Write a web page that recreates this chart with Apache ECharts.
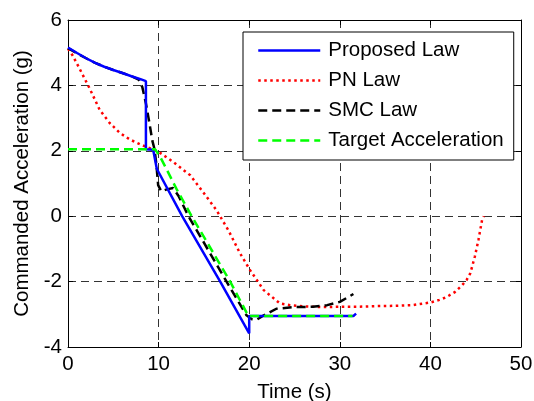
<!DOCTYPE html>
<html>
<head>
<meta charset="utf-8">
<script src="https://cdn.jsdelivr.net/npm/echarts@6/dist/echarts.min.js"></script>
<style>
html,body{margin:0;padding:0;background:#fff;}
#chart{width:534px;height:401px;}
</style>
</head>
<body>
<div id="chart"></div>
<script>
// ---- data ----
var xTicks = [0, 10, 20, 30, 40, 50];
var yTicks = [-4, -2, 0, 2, 4, 6];
var seriesNames = ['Proposed Law', 'PN Law', 'SMC Law', 'Target Acceleration'];

var proposedT = [0, 1, 2, 3, 4, 5, 6, 7, 8, 8.6, 8.6, 9.4, 9.8, 12.6, 16.8, 20, 20, 25, 31.5, 31.8];
var proposedV = [5.16, 4.99, 4.83, 4.69, 4.57, 4.47, 4.38, 4.28, 4.19, 4.13, 2.05, 2.03, 1.45, 0.0, -2.0, -3.58, -3.05, -3.05, -3.05, -2.98];

var pnT = [0, 0.5, 1.3, 2.4, 3.5, 4.6, 5.7, 6.8, 8.1, 10, 11.6, 13.5, 14.9, 16.4, 17.7, 19, 20.1, 21.6, 23.4, 24.5, 26, 28, 30, 32, 34, 36, 38, 40, 41, 41.8, 42.7, 43.5, 44, 44.4, 44.9, 45.3, 45.7, 45.9];
var pnV = [5.12, 4.92, 4.5, 3.9, 3.25, 2.85, 2.55, 2.35, 2.18, 1.97, 1.66, 1.25, 0.74, 0.18, -0.43, -1.14, -1.65, -2.26, -2.67, -2.72, -2.76, -2.78, -2.77, -2.77, -2.75, -2.74, -2.72, -2.64, -2.56, -2.47, -2.32, -2.11, -1.95, -1.75, -1.24, -0.73, -0.12, 0.0];

var smcT = [0, 1, 2, 3, 4, 5, 6, 7, 7.8, 8.2, 8.6, 9.0, 9.3, 9.55, 9.75, 9.95, 10.3, 10.9, 11.6, 12.2, 13.3, 17.5, 19.7, 20.3, 20.8, 21.5, 23, 25, 27, 28.6, 30, 31.5];
var smcV = [5.14, 4.98, 4.83, 4.69, 4.57, 4.47, 4.38, 4.28, 4.18, 3.95, 3.45, 2.83, 2.32, 2.05, 1.6, 0.95, 0.76, 0.82, 0.86, 0.62, 0.0, -2.0, -3.03, -3.15, -3.17, -3.05, -2.83, -2.78, -2.77, -2.72, -2.62, -2.38];

var targetT = [0, 9.6, 10.2, 11, 12, 13.65, 17.9, 19.9, 25, 31.4];
var targetV = [2.05, 2.05, 1.8, 1.37, 0.82, 0.0, -2.0, -3.05, -3.05, -3.05];

function zip(t, v) { return t.map(function (x, i) { return [x, v[i]]; }); }

var FONT = 'Liberation Sans, Arial, sans-serif';
var FS = 20.5;

var chart = echarts.init(document.getElementById('chart'), null, {renderer: 'canvas'});

var axisCommon = {
  axisLine: {show: true, onZero: false, lineStyle: {color: '#000', width: 1}},
  axisTick: {show: true, inside: true, length: 5, lineStyle: {color: '#000', width: 1}}
};

var option = {
  backgroundColor: '#fff',
  animation: false,
  grid: {left: 68, right: 13, top: 20, bottom: 54, show: false, containLabel: false, outerBoundsMode: 'none'},
  legend: {
    orient: 'vertical',
    left: 243,
    top: 32,
    padding: [8, 10, 9, 14],
    itemWidth: 62,
    itemHeight: 20,
    itemGap: 9,
    backgroundColor: '#fff',
    borderColor: '#000',
    borderWidth: 1,
    borderRadius: 0,
    data: seriesNames,
    textStyle: {fontFamily: FONT, fontSize: FS, color: '#000', lineHeight: 20, padding: [0, 0, 0, 3]},
    lineStyle: {width: 2.5},
    itemStyle: {opacity: 0, borderWidth: 0}
  },
  xAxis: [
    Object.assign({
      type: 'value', min: xTicks[0], max: xTicks[xTicks.length - 1], interval: 10,
      position: 'bottom',
      name: 'Time (s)', nameLocation: 'middle', nameGap: 35,
      nameTextStyle: {fontFamily: FONT, fontSize: FS, color: '#000'},
      axisLabel: {show: true, margin: 7, fontFamily: FONT, fontSize: FS, color: '#000'},
      splitLine: {show: true, lineStyle: {color: '#333', width: 1, type: [8, 5]}}
    }, axisCommon),
    Object.assign({
      type: 'value', min: xTicks[0], max: xTicks[xTicks.length - 1], interval: 10,
      position: 'top', axisLabel: {show: false}, splitLine: {show: false}
    }, axisCommon)
  ],
  yAxis: [
    Object.assign({
      type: 'value', min: yTicks[0], max: yTicks[yTicks.length - 1], interval: 2,
      position: 'left',
      name: 'Commanded Acceleration (g)', nameLocation: 'middle', nameGap: 35,
      nameTextStyle: {fontFamily: FONT, fontSize: FS, color: '#000'},
      axisLabel: {show: true, margin: 6, fontFamily: FONT, fontSize: FS, color: '#000'},
      splitLine: {show: true, lineStyle: {color: '#333', width: 1, type: [8, 5]}}
    }, axisCommon),
    Object.assign({
      type: 'value', min: yTicks[0], max: yTicks[yTicks.length - 1], interval: 2,
      position: 'right', axisLabel: {show: false}, splitLine: {show: false}
    }, axisCommon)
  ],
  series: [
    {
      name: seriesNames[0], type: 'line', symbol: 'none', data: zip(proposedT, proposedV),
      lineStyle: {color: '#0000ff', width: 2.5, type: 'solid'}, itemStyle: {color: '#0000ff'}, z: 5
    },
    {
      name: seriesNames[1], type: 'line', symbol: 'none', data: zip(pnT, pnV),
      lineStyle: {color: '#ff0000', width: 2.5, type: [2.5, 3.5]}, itemStyle: {color: '#ff0000'}, z: 3
    },
    {
      name: seriesNames[2], type: 'line', symbol: 'none', data: zip(smcT, smcV),
      lineStyle: {color: '#000000', width: 2.5, type: [9, 5]}, itemStyle: {color: '#000000'}, z: 4
    },
    {
      name: seriesNames[3], type: 'line', symbol: 'none', data: zip(targetT, targetV),
      lineStyle: {color: '#00ff00', width: 2.5, type: [9, 5]}, itemStyle: {color: '#00ff00'}, z: 6
    }
  ]
};
chart.setOption(option);
</script>
</body>
</html>
